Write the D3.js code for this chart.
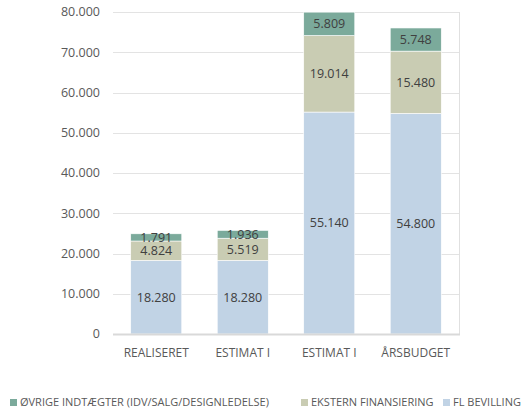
<!DOCTYPE html>
<html>
<head>
<meta charset="utf-8">
<script src="https://cdn.jsdelivr.net/npm/d3@7"></script>
<style>
  body { margin: 0; background: #fff; }
  svg { display: block; font-family: "Open Sans", "Liberation Sans", sans-serif; }
  .gridline { stroke: #e3e3e3; stroke-width: 1; }
</style>
</head>
<body>
<svg id="chart"></svg>
<script>
var categories = ["REALISERET", "ESTIMAT I", "ESTIMAT I ", "ÅRSBUDGET"];
var flBevilling = [18280, 18280, 55140, 54800];
var eksternFinansiering = [4824, 5519, 19014, 15480];
var ovrigeIndtaegter = [1791, 1936, 5809, 5748];
var seriesNames = ["FL BEVILLING", "EKSTERN FINANSIERING", "ØVRIGE INDTÆGTER (IDV/SALG/DESIGNLEDELSE)"];
var yTicks = [0, 10000, 20000, 30000, 40000, 50000, 60000, 70000, 80000];

var colors = ["#c1d3e5", "#c9ccb3", "#7baa9b"];

var canvas_width = 524;
var canvas_height = 412;
var plotLeft = 113, plotRight = 459, plotTop = 12, plotBottom = 334;

var table = categories.map(function (c, i) {
  return {
    cat: c,
    "FL BEVILLING": flBevilling[i],
    "EKSTERN FINANSIERING": eksternFinansiering[i],
    "ØVRIGE INDTÆGTER (IDV/SALG/DESIGNLEDELSE)": ovrigeIndtaegter[i]
  };
});
var stacked = d3.stack().keys(seriesNames)(table);

var xScale = d3.scaleBand().domain(categories).range([plotLeft, plotRight]).paddingInner(0.41).paddingOuter(0.205);
var yScale = d3.scaleLinear().domain([0, 80000]).range([plotBottom, plotTop]);
var fmt = function (v) { return d3.format(",")(v).replace(/,/g, "."); };

var svg = d3.select("#chart").attr("width", canvas_width).attr("height", canvas_height);

// grid
svg.append("g").selectAll("line").data(yTicks.slice(1)).enter().append("line")
  .attr("class", "gridline")
  .attr("x1", plotLeft).attr("x2", plotRight)
  .attr("y1", function (d) { return Math.round(yScale(d)) + 0.5; })
  .attr("y2", function (d) { return Math.round(yScale(d)) + 0.5; });

// right frame edge
svg.append("line").attr("x1", plotRight + 0.5).attr("x2", plotRight + 0.5)
  .attr("y1", plotTop).attr("y2", plotBottom).attr("stroke", "#e0e0e0");

// y tick labels
svg.append("g").selectAll("text").data(yTicks).enter().append("text")
  .attr("x", 100).attr("y", function (d) { return yScale(d); })
  .attr("dy", "0.35em").attr("text-anchor", "end")
  .attr("font-size", 12.5).attr("fill", "#595959")
  .text(function (d) { return fmt(d); });

// bars
var groups = svg.append("g").selectAll("g").data(stacked).enter().append("g")
  .attr("fill", function (d, i) { return colors[i]; });

groups.selectAll("rect").data(function (d) { return d; }).enter().append("rect")
  .attr("x", function (d) { return xScale(d.data.cat); })
  .attr("width", xScale.bandwidth())
  .attr("y", function (d) { return yScale(d[1]); })
  .attr("height", function (d) { return yScale(d[0]) - yScale(d[1]); })
  .attr("stroke", "#fff").attr("stroke-width", 0.6);

// data labels
groups.selectAll("text").data(function (d) { return d; }).enter().append("text")
  .attr("x", function (d) { return xScale(d.data.cat) + xScale.bandwidth() / 2; })
  .attr("y", function (d) { return (yScale(d[0]) + yScale(d[1])) / 2; })
  .attr("dy", "0.35em").attr("text-anchor", "middle")
  .attr("font-size", 12.5).attr("fill", "#404040")
  .text(function (d) { return fmt(d[1] - d[0]); });

// x axis line
svg.append("line").attr("x1", plotLeft).attr("x2", plotRight + 1)
  .attr("y1", plotBottom + 0.5).attr("y2", plotBottom + 0.5)
  .attr("stroke", "#d9d9d9").attr("stroke-width", 2);

// category labels
svg.append("g").selectAll("text").data(categories).enter().append("text")
  .attr("x", function (d) { return xScale(d) + xScale.bandwidth() / 2; })
  .attr("y", 353).attr("dy", "0.35em").attr("text-anchor", "middle")
  .attr("font-size", 12).attr("fill", "#595959")
  .text(function (d) { return d.trim(); });

// legend
var legendItems = [
  { name: seriesNames[2], color: colors[2], x: 10 },
  { name: seriesNames[1], color: colors[1], x: 301 },
  { name: seriesNames[0], color: colors[0], x: 443 }
];
var legend = svg.append("g").selectAll("g").data(legendItems).enter().append("g")
  .attr("transform", function (d) { return "translate(" + d.x + ",399)"; });
legend.append("rect").attr("width", 7).attr("height", 7)
  .attr("fill", function (d) { return d.color; });
legend.append("text").attr("x", 10).attr("y", 3.5).attr("dy", "0.35em")
  .attr("font-size", 11).attr("fill", "#595959")
  .text(function (d) { return d.name; });
</script>
</body>
</html>
